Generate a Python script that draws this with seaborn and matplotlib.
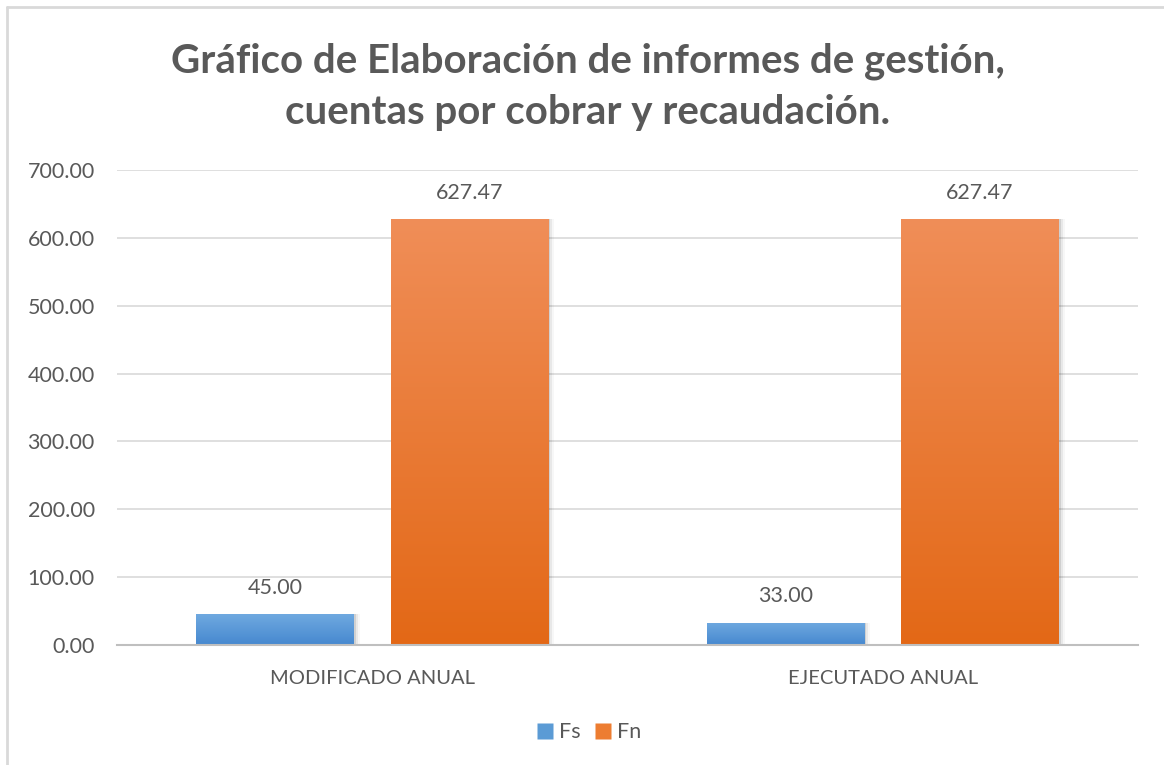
import matplotlib
matplotlib.use("Agg")
import matplotlib.pyplot as plt
import matplotlib.colors as mcolors
from matplotlib.lines import Line2D
from matplotlib.patches import Rectangle
import numpy as np
import pandas as pd
import seaborn as sns

# ---- data ----
categories = ["MODIFICADO ANUAL", "EJECUTADO ANUAL"]
series_names = ["Fs", "Fn"]
fs_values = [45.00, 33.00]
fn_values = [627.47, 627.47]
y_ticks = [0, 100, 200, 300, 400, 500, 600, 700]
title = "Gráfico de Elaboración de informes de gestión,\ncuentas por cobrar y recaudación."

df = pd.DataFrame({
    "cat": categories * 2,
    "serie": [series_names[0]] * 2 + [series_names[1]] * 2,
    "val": fs_values + fn_values,
})

sns.set_theme(style="white")
plt.rcParams["font.family"] = ["Lato", "DejaVu Sans"]

grey = "#595959"
base_colors = {"Fs": "#5B9BD5", "Fn": "#ED7D31"}
grad = {
    "Fs": ("#6FA9E0", "#4688CF"),
    "Fn": ("#F08E58", "#E36816"),
}

fig = plt.figure(figsize=(11.64, 7.65), dpi=100)
ax = fig.add_axes([0.1005, 0.1569, 0.8772, 0.6209])

sns.barplot(data=df, x="cat", y="val", hue="serie", order=categories,
            hue_order=series_names, palette=base_colors, width=0.762,
            gap=0.19, ax=ax, legend=False, saturation=1, edgecolor="none")

ax.set_ylim(0, 700)
ax.set_xlim(-0.5, 1.5)
ax.set_yticks(y_ticks)
ax.set_yticklabels([f"{v:.2f}" for v in y_ticks], color=grey, fontsize=15.5)
ax.tick_params(axis="y", length=0, pad=16)
ax.tick_params(axis="x", length=0, pad=18, labelsize=14.5, labelcolor=grey)
ax.set_xlabel("")
ax.set_ylabel("")
ax.yaxis.grid(True, color="#D9D9D9", linewidth=1.2)
ax.set_axisbelow(True)
for s in ["left", "right", "top"]:
    ax.spines[s].set_visible(False)
ax.spines["bottom"].set_color("#BFBFBF")
ax.spines["bottom"].set_linewidth(1.5)
ax.spines["bottom"].set_zorder(5)

# gradients + labels
for container, name in zip(ax.containers, series_names):
    c_top, c_bot = grad[name]
    cmap = mcolors.LinearSegmentedColormap.from_list(name, [c_top, c_bot])
    for patch in container.patches:
        x0, y0 = patch.get_x(), patch.get_y()
        w, h = patch.get_width(), patch.get_height()
        # soft shadow on the right
        for k, a in enumerate([0.10, 0.06, 0.03]):
            sh = Rectangle((x0 + w, y0), 0.004 * (k + 1), h, color="black",
                           alpha=a, zorder=1.5, linewidth=0)
            ax.add_patch(sh)
        img = np.linspace(0, 1, 256).reshape(-1, 1)
        im = ax.imshow(img, cmap=cmap, aspect="auto",
                       extent=(x0, x0 + w, y0, y0 + h), origin="upper",
                       zorder=2)
        im.set_clip_path(patch)
        ax.text(x0 + w / 2, y0 + h + 39, f"{h:.2f}", ha="center",
                va="center", fontsize=15.5, color=grey)

ax.set_xlim(-0.5, 1.5)
ax.set_ylim(0, 700)

fig.suptitle(title, x=0.505, y=0.944, fontsize=29, fontweight="bold",
             color=grey, linespacing=1.45, va="top")

handles = [Line2D([0], [0], marker="s", linestyle="none", markersize=11,
                  markerfacecolor=base_colors[n], markeredgecolor="none")
           for n in series_names]
fig.legend(handles, series_names, loc="center", bbox_to_anchor=(0.506, 0.043),
           ncol=2, frameon=False, fontsize=15.5, labelcolor=grey,
           handlelength=0.7, handletextpad=0.3, columnspacing=0.7)

# chart border
fig.add_artist(Line2D([7 / 1164, 7 / 1164], [0, 1 - 7 / 765],
                      transform=fig.transFigure, color="#D9D9D9", lw=2))
fig.add_artist(Line2D([7 / 1164, 1], [1 - 7 / 765, 1 - 7 / 765],
                      transform=fig.transFigure, color="#D9D9D9", lw=2))

fig.savefig("out.png", dpi=100, facecolor="white")
